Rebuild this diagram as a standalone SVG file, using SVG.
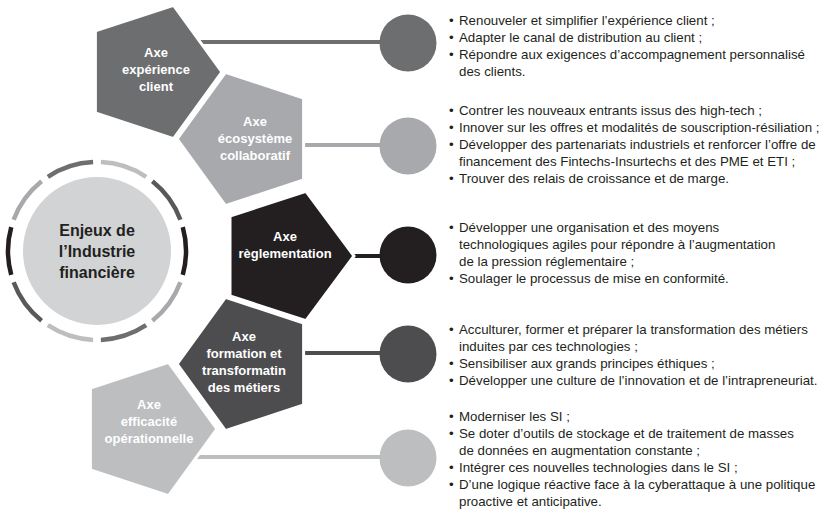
<svg xmlns="http://www.w3.org/2000/svg" width="823" height="512" viewBox="0 0 823 512">
<style>
.pt{font-family:"Liberation Sans",Arial,sans-serif;font-size:13px;font-weight:bold;fill:#ffffff;text-anchor:middle}
.ct{font-family:"Liberation Sans",Arial,sans-serif;font-size:16px;font-weight:bold;fill:#231f20;text-anchor:middle}
.bt{font-family:"Liberation Sans",Arial,sans-serif;font-size:13.3px;fill:#231f20}
.pg{stroke:#ffffff;stroke-width:3;stroke-linejoin:miter}
.rg{fill:none;stroke-width:4.5}
.cn{stroke-width:4;fill:none}
</style>
<rect width="823" height="512" fill="#ffffff"/>
<g id="connectors">
<line class="cn" x1="200" y1="42" x2="395" y2="42" stroke="#6d6e70"/>
<line class="cn" x1="300" y1="145" x2="395" y2="145" stroke="#a7a9ac"/>
<line class="cn" x1="350" y1="256" x2="395" y2="256" stroke="#231f20"/>
<line class="cn" x1="300" y1="353" x2="395" y2="353" stroke="#4d4d4f"/>
<line class="cn" x1="195" y1="457" x2="395" y2="457" stroke="#bcbec0"/>
</g>
<g id="center">
<circle cx="97" cy="251" r="74" fill="#d1d3d4"/>
<path class="rg" stroke="#bcbec0" d="M100.88 162.09 A89 89 0 0 1 146.12 176.78"/>
<path class="rg" stroke="#58595b" d="M152.40 181.35 A89 89 0 0 1 180.37 219.83"/>
<path class="rg" stroke="#231f20" d="M182.76 227.22 A89 89 0 0 1 182.76 274.78"/>
<path class="rg" stroke="#a7a9ac" d="M180.37 282.17 A89 89 0 0 1 152.40 320.65"/>
<path class="rg" stroke="#6d6e70" d="M146.12 325.22 A89 89 0 0 1 100.88 339.91"/>
<path class="rg" stroke="#bcbec0" d="M93.12 339.91 A89 89 0 0 1 47.88 325.22"/>
<path class="rg" stroke="#58595b" d="M41.60 320.65 A89 89 0 0 1 13.63 282.17"/>
<path class="rg" stroke="#231f20" d="M11.24 274.78 A89 89 0 0 1 11.24 227.22"/>
<path class="rg" stroke="#a7a9ac" d="M13.63 219.83 A89 89 0 0 1 41.60 181.35"/>
<path class="rg" stroke="#6d6e70" d="M47.88 176.78 A89 89 0 0 1 93.12 162.09"/>
<text class="ct" x="97" y="236">Enjeux de</text>
<text class="ct" x="97" y="257">l’Industrie</text>
<text class="ct" x="97" y="278">financière</text>
</g>
<g id="axe-experience">
<polygon class="pg" fill="#6d6e70" points="222,72 173.6,138.6 95.4,113 95.4,30.9 173.6,5.4"/>
<text class="pt" x="156" y="57">Axe</text>
<text class="pt" x="156" y="74">expérience</text>
<text class="pt" x="156" y="91">client</text>
<circle cx="408" cy="43" r="28.5" fill="#6d6e70"/>
</g>
<g id="axe-ecosysteme">
<polygon class="pg" fill="#a7a9ac" points="177,139 225.4,205.6 303.6,180 303.6,98 225.4,72.4"/>
<text class="pt" x="255" y="126">Axe</text>
<text class="pt" x="255" y="143">écosystème</text>
<text class="pt" x="255" y="160">collaboratif</text>
<circle cx="408" cy="146" r="28.5" fill="#a7a9ac"/>
</g>
<g id="axe-reglementation">
<polygon class="pg" fill="#231f20" points="354,256 306,320.7 230,296 230,216 306,191.3"/>
<text class="pt" x="285" y="241">Axe</text>
<text class="pt" x="285" y="258">règlementation</text>
<circle cx="408" cy="255" r="28.5" fill="#231f20"/>
</g>
<g id="axe-formation">
<polygon class="pg" fill="#4d4d4f" points="177,364 225.4,430.6 303.6,405 303.6,323 225.4,297.4"/>
<text class="pt" x="244" y="341">Axe</text>
<text class="pt" x="244" y="358">formation et</text>
<text class="pt" x="244" y="375">transformatin</text>
<text class="pt" x="244" y="392">des métiers</text>
<circle cx="408" cy="354" r="28.5" fill="#4d4d4f"/>
</g>
<g id="axe-efficacite">
<polygon class="pg" fill="#bcbec0" points="217,429 168.6,495.6 90.4,470 90.4,388 168.6,362.4"/>
<text class="pt" x="149" y="409">Axe</text>
<text class="pt" x="149" y="426">efficacité</text>
<text class="pt" x="149" y="443">opérationnelle</text>
<circle cx="408" cy="458" r="28.5" fill="#bcbec0"/>
</g>
<g id="text-experience" class="bt">
<text x="449" y="24.5">•</text><text x="459" y="24.5">Renouveler et simplifier l’expérience client ;</text>
<text x="449" y="41.5">•</text><text x="459" y="41.5">Adapter le canal de distribution au client ;</text>
<text x="449" y="58.5">•</text><text x="459" y="58.5">Répondre aux exigences d’accompagnement personnalisé</text>
<text x="459" y="75.5">des clients.</text>
</g>
<g id="text-ecosysteme" class="bt">
<text x="449" y="115">•</text><text x="459" y="115">Contrer les nouveaux entrants issus des high-tech ;</text>
<text x="449" y="132">•</text><text x="459" y="132">Innover sur les offres et modalités de souscription-résiliation ;</text>
<text x="449" y="149">•</text><text x="459" y="149">Développer des partenariats industriels et renforcer l’offre de</text>
<text x="459" y="166">financement des Fintechs-Insurtechs et des PME et ETI ;</text>
<text x="449" y="183">•</text><text x="459" y="183">Trouver des relais de croissance et de marge.</text>
</g>
<g id="text-reglementation" class="bt">
<text x="449" y="232">•</text><text x="459" y="232">Développer une organisation et des moyens</text>
<text x="459" y="249">technologiques agiles pour répondre à l’augmentation</text>
<text x="459" y="266">de la pression réglementaire ;</text>
<text x="449" y="283">•</text><text x="459" y="283">Soulager le processus de mise en conformité.</text>
</g>
<g id="text-formation" class="bt">
<text x="449" y="334">•</text><text x="459" y="334">Acculturer, former et préparer la transformation des métiers</text>
<text x="459" y="351">induites par ces technologies ;</text>
<text x="449" y="368">•</text><text x="459" y="368">Sensibiliser aux grands principes éthiques ;</text>
<text x="449" y="385">•</text><text x="459" y="385">Développer une culture de l’innovation et de l’intrapreneuriat.</text>
</g>
<g id="text-efficacite" class="bt">
<text x="449" y="421">•</text><text x="459" y="421">Moderniser les SI ;</text>
<text x="449" y="438">•</text><text x="459" y="438">Se doter d’outils de stockage et de traitement de masses</text>
<text x="459" y="455">de données en augmentation constante ;</text>
<text x="449" y="472">•</text><text x="459" y="472">Intégrer ces nouvelles technologies dans le SI ;</text>
<text x="449" y="489">•</text><text x="459" y="489">D’une logique réactive face à la cyberattaque à une politique</text>
<text x="459" y="506">proactive et anticipative.</text>
</g>
</svg>
